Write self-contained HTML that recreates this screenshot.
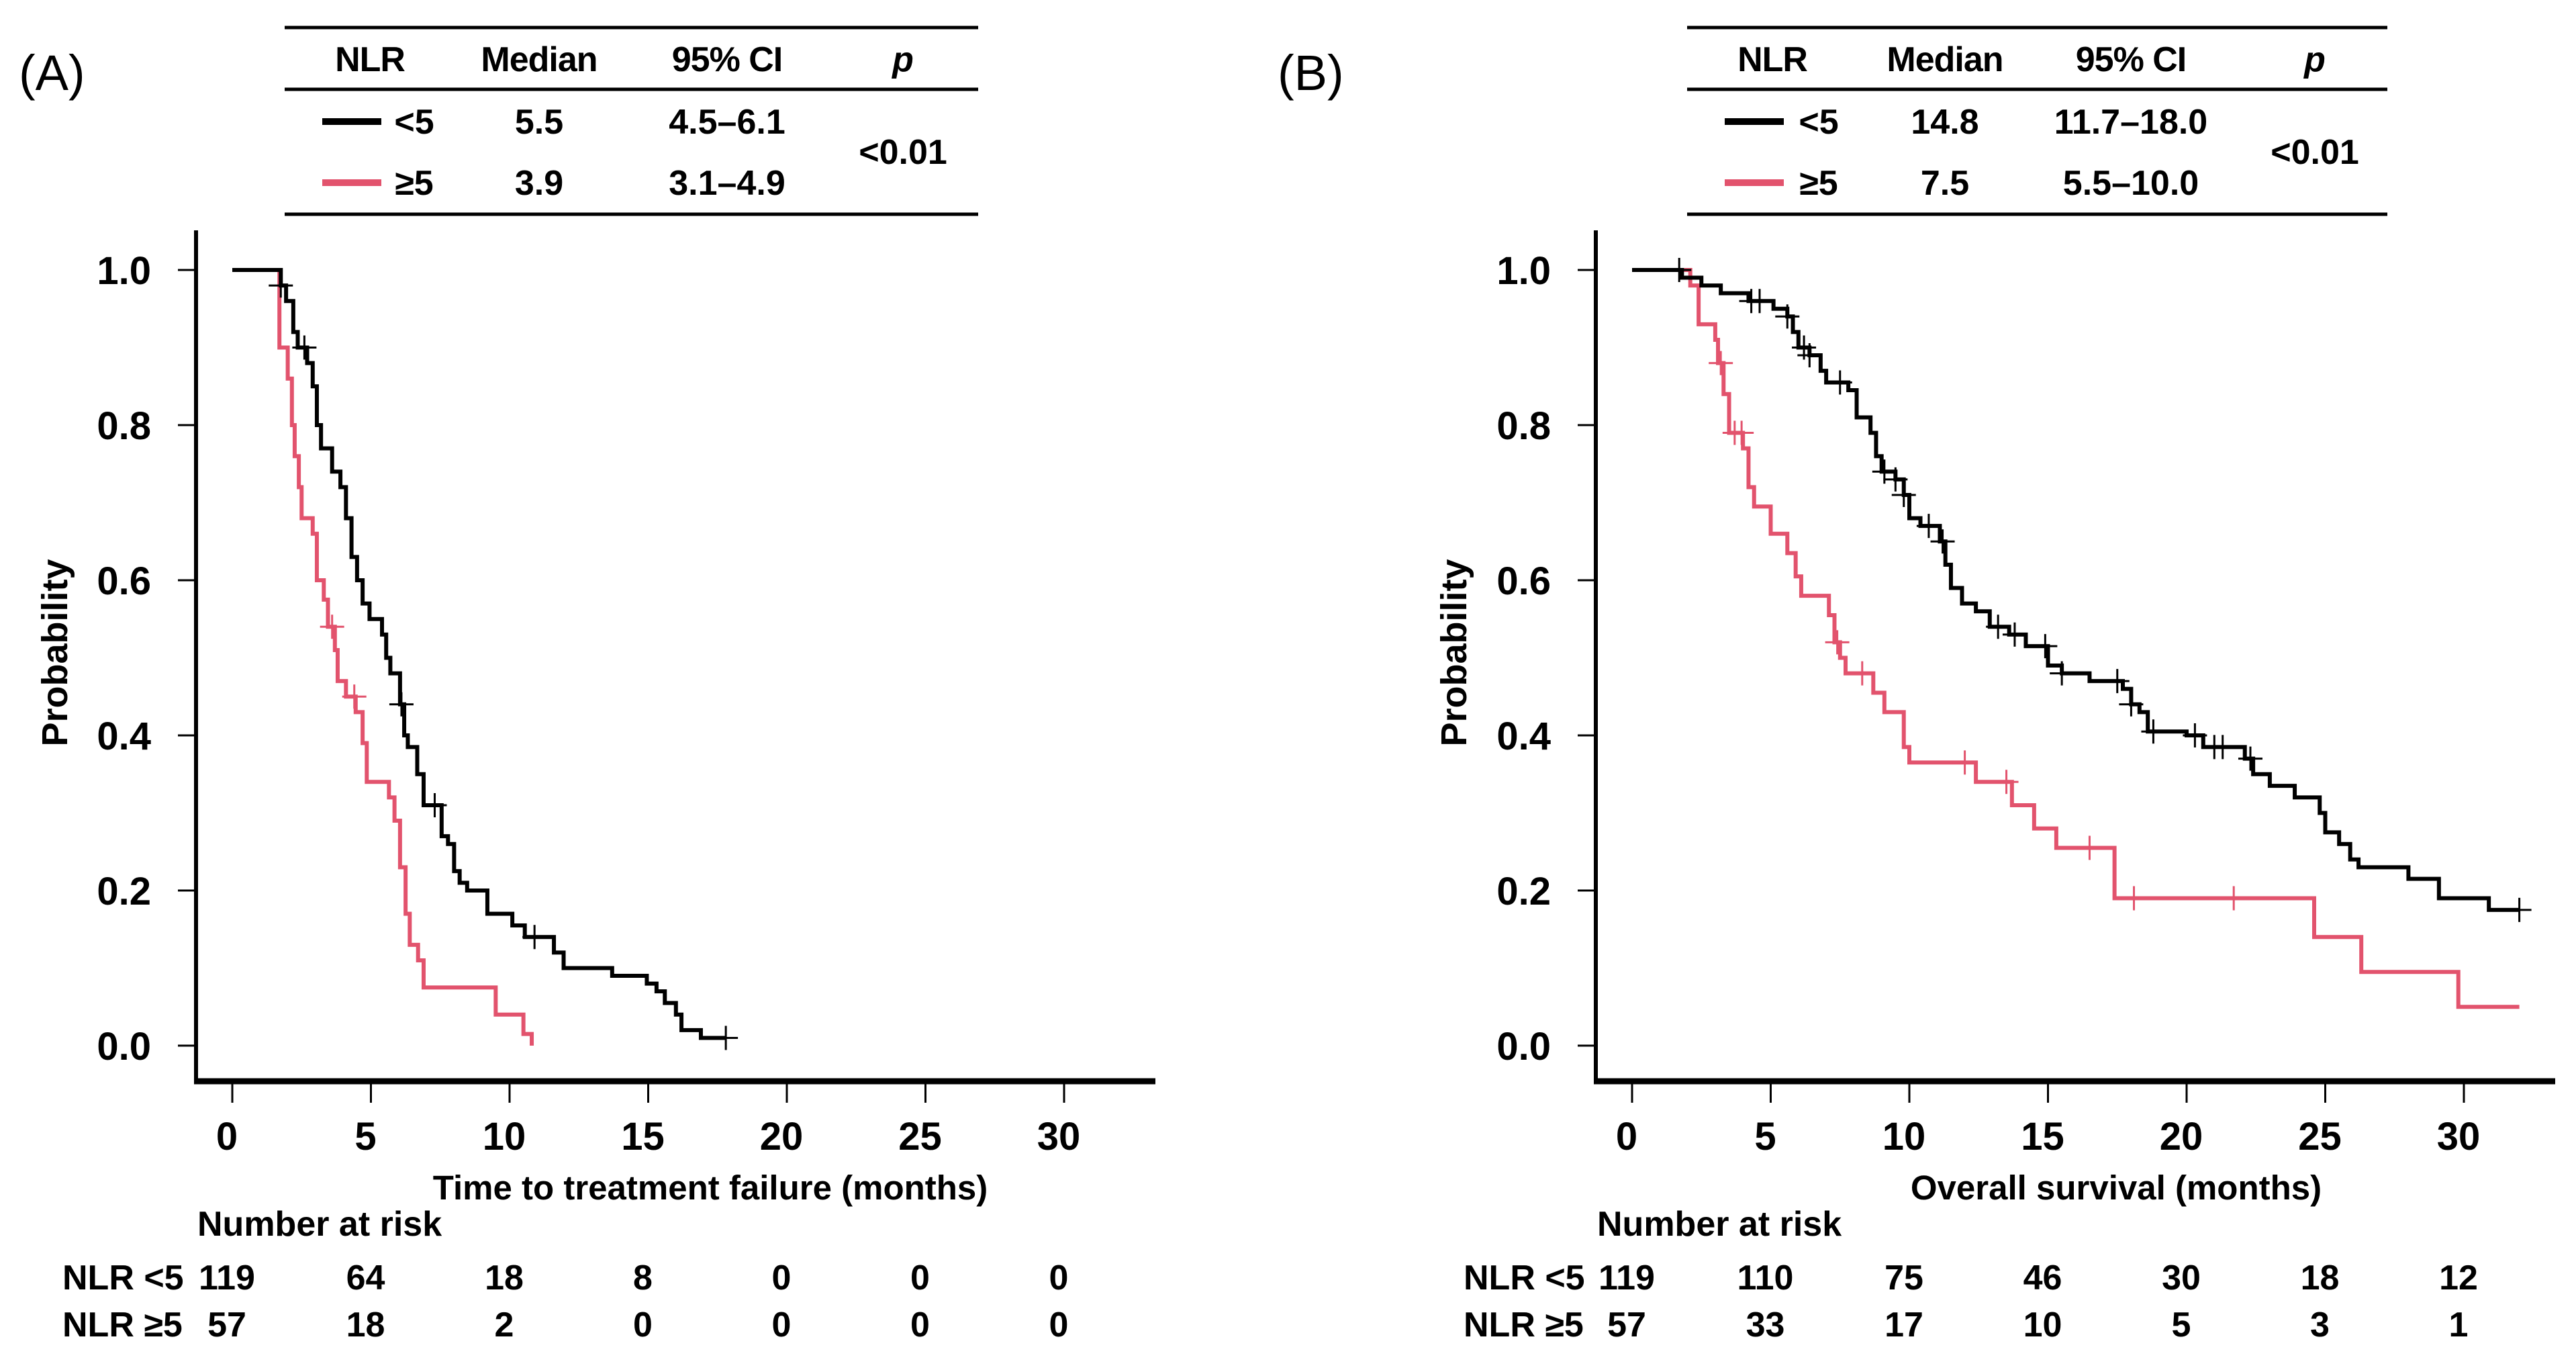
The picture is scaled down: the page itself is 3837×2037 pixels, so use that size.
<!DOCTYPE html>
<html><head><meta charset="utf-8"><style>
html,body{margin:0;padding:0;background:#fff}
svg{display:block}
text{font-family:"Liberation Sans",Arial,sans-serif}
</style></head><body>
<svg id="fig" width="3837" height="2037" viewBox="0 0 3837 2037" xmlns="http://www.w3.org/2000/svg"></svg>
<script>
const xTicks=[0,5,10,15,20,25,30];
const yTicks=[0,0.2,0.4,0.6,0.8,1.0];
const yTickLabels=["0.0","0.2","0.4","0.6","0.8","1.0"];
// Panel A: time to treatment failure
const aLowT=[0,1.75,1.94,2.2,2.36,2.7,2.9,3.05,3.2,3.6,3.9,4.1,4.3,4.5,4.7,4.95,5.4,5.55,5.7,6.05,6.2,6.33,6.67,6.9,7.55,7.78,8.0,8.2,8.47,9.2,10.1,10.55,11.6,11.95,13.7,14.95,15.3,15.6,16.0,16.2,16.9,17.8];
const aLowS=[1,0.98,0.96,0.92,0.90,0.88,0.85,0.80,0.77,0.74,0.72,0.68,0.63,0.60,0.57,0.55,0.53,0.50,0.48,0.44,0.40,0.385,0.35,0.31,0.27,0.26,0.225,0.21,0.20,0.17,0.155,0.14,0.12,0.10,0.09,0.08,0.07,0.055,0.04,0.02,0.01,0.01];
const aLowCens=[1.75,2.6,6.1,7.3,10.9,17.8];
const aHighT=[0,1.7,2.0,2.15,2.25,2.4,2.5,2.9,3.05,3.3,3.45,3.7,3.8,4.1,4.45,4.7,4.85,5.65,5.85,6.05,6.25,6.4,6.7,6.9,9.5,10.5,10.8];
const aHighS=[1,0.90,0.86,0.80,0.76,0.72,0.68,0.66,0.60,0.575,0.54,0.51,0.47,0.45,0.43,0.39,0.34,0.32,0.29,0.23,0.17,0.13,0.11,0.075,0.04,0.015,0];
const aHighCens=[3.6,4.4];
const aRiskLow=["119","64","18","8","0","0","0"];
const aRiskHigh=["57","18","2","0","0","0","0"];
// Panel B: overall survival
const bLowT=[0,1.8,2.5,3.2,4.2,5.1,5.6,5.8,6.0,6.4,6.8,7.0,7.8,8.1,8.6,8.8,9.0,9.5,9.8,10.0,10.4,11.1,11.3,11.5,11.9,12.4,12.9,13.6,14.2,15.0,15.5,16.5,17.7,18.0,18.3,18.6,20.0,20.6,22.1,22.4,23.0,23.9,24.8,25.0,25.5,25.9,26.2,28.0,29.1,30.9,32.0];
const bLowS=[1,0.99,0.98,0.97,0.96,0.95,0.94,0.92,0.90,0.89,0.87,0.855,0.845,0.81,0.79,0.76,0.74,0.73,0.71,0.68,0.67,0.65,0.62,0.59,0.57,0.56,0.54,0.53,0.515,0.49,0.48,0.47,0.46,0.44,0.43,0.405,0.40,0.385,0.37,0.35,0.335,0.32,0.30,0.275,0.26,0.24,0.23,0.215,0.19,0.175,0.175];
const bLowCens=[1.7,4.3,4.6,5.6,6.2,6.4,7.5,9.1,9.5,9.8,10.7,11.2,13.2,13.8,14.9,15.5,17.5,18.0,18.8,20.3,21.0,21.3,22.3,32.0];
const bHighT=[0,2.1,2.4,3.0,3.1,3.3,3.5,4.0,4.2,4.4,5.0,5.6,5.9,6.1,7.1,7.3,7.5,7.7,8.7,9.1,9.8,10.0,12.4,13.7,14.5,15.3,17.4,24.6,26.3,29.8,32.0];
const bHighS=[1,0.98,0.93,0.91,0.88,0.84,0.79,0.77,0.72,0.695,0.66,0.635,0.605,0.58,0.555,0.52,0.50,0.48,0.455,0.43,0.385,0.365,0.34,0.31,0.28,0.255,0.19,0.14,0.095,0.05,0.05];
const bHighCens=[3.2,3.7,3.95,7.4,8.3,12.0,13.5,16.5,18.1,21.7];
const bRiskLow=["119","110","75","46","30","18","12"];
const bRiskHigh=["57","33","17","10","5","3","1"];

const NS="http://www.w3.org/2000/svg";
const svg=document.getElementById('fig');
const RED="#e2536d";
function mk(tag,attrs,parent){const e=document.createElementNS(NS,tag);for(const k in attrs)e.setAttribute(k,attrs[k]);(parent||svg).appendChild(e);return e;}
function txt(s,x,y,size,anchor,parent,extra){const e=mk('text',Object.assign({x:x,y:y,'font-size':size,'font-weight':'bold','text-anchor':anchor||'middle'},extra||{}),parent);e.textContent=s;return e;}

function panel(o){
  const g=mk('g',{});
  
  
  const x0=o.x0, px=41.3, y0=1557, py=1155;
  const sx=t=>x0+t*px, sy=s=>y0-s*py;
  const ax=x0-54;
  const lab=txt(o.letter,o.letterX,134,74,'start',g,{'font-weight':'normal'});
  
  
  const tb=mk('g',{},g);
  
  
  [41,133,319].forEach(y=>mk('line',{x1:o.tx1,x2:o.tx2,y1:y,y2:y,stroke:'#000','stroke-width':5},tb));
  txt('NLR',o.cols[0],106,52,'middle',tb,{'letter-spacing':'-1'});
  txt('Median',o.cols[1],106,52,'middle',tb,{'letter-spacing':'-1'});
  txt('95%  CI',o.cols[2],106,52,'middle',tb,{'letter-spacing':'-1'});
  txt('p',o.cols[3],106,52,'middle',tb,{'font-style':'italic'});
  mk('line',{x1:o.legX1,x2:o.legX2,y1:181,y2:181,stroke:'#000','stroke-width':10},tb);
  mk('line',{x1:o.legX1,x2:o.legX2,y1:272,y2:272,stroke:RED,'stroke-width':10},tb);
  txt('<5',o.legLab,199,52,'middle',tb);
  txt('\u22655',o.legLab,290,52,'middle',tb);
  txt(o.med[0],o.cols[1],199,52,'middle',tb);
  txt(o.med[1],o.cols[1],290,52,'middle',tb);
  txt(o.ci[0],o.cols[2],199,52,'middle',tb);
  txt(o.ci[1],o.cols[2],290,52,'middle',tb);
  txt('<0.01',o.cols[3],244,52,'middle',tb);
  const axes=mk('g',{},g);
  
  
  mk('line',{x1:ax,x2:ax,y1:343,y2:1614,stroke:'#000','stroke-width':6},axes);
  mk('line',{x1:ax-3,x2:o.xEnd,y1:1610,y2:1610,stroke:'#000','stroke-width':9},axes);
  xTicks.forEach(t=>{
    mk('line',{x1:sx(t),x2:sx(t),y1:1614,y2:1642,stroke:'#000','stroke-width':3},axes);
    const tl=txt(String(t),sx(t)-8,1712,58,'middle',axes);
    
    
  });
  yTicks.forEach((v,i)=>{
    mk('line',{x1:ax-27,x2:ax,y1:sy(v),y2:sy(v),stroke:'#000','stroke-width':3},axes);
    const tl=txt(yTickLabels[i],ax-67,sy(v)+21,58,'end',axes);
    
    
  });
  const yt=txt('Probability',0,0,54,'middle',g,{transform:`translate(${o.ylabX},972) rotate(-90)`});
  
  
  const xt=txt(o.xlabel,o.xlabX,1786,51,'middle',g);
  
  
  function curve(T,S,cens,color,nm){
    let d=`M${sx(T[0])},${sy(S[0])}`;
    for(let i=1;i<T.length;i++){d+=` H${sx(T[i])} V${sy(S[i])}`;}
    const p=mk('path',{d:d,fill:'none',stroke:color,'stroke-width':6},g);
    
    
    cens.forEach(c=>{
      let s=S[0];for(let i=0;i<T.length;i++){if(T[i]<=c)s=S[i];}
      const cx=sx(c),cy=sy(s);
      const m=mk('path',{d:`M${cx-18},${cy} H${cx+18} M${cx},${cy-18} V${cy+18}`,stroke:color,'stroke-width':3,fill:'none'},g);
      
      
    });
  }
  curve(o.hT,o.hS,o.hC,RED,'curve-nlr-high');
  curve(o.lT,o.lS,o.lC,'#000','curve-nlr-low');
  const rk=mk('g',{},g);
  
  
  txt('Number at risk',ax+2,1840,52,'start',rk);
  txt('NLR <5',o.nlrX,1920,52,'start',rk);
  txt('NLR \u22655',o.nlrX,1990,52,'start',rk);
  xTicks.forEach((t,i)=>{
    txt(o.rL[i],sx(t)-8,1920,52,'middle',rk);
    txt(o.rH[i],sx(t)-8,1990,52,'middle',rk);
  });
}
panel({name:'panel-a-ttf',letter:'(A)',letterX:28,x0:346,xEnd:1721,tx1:424,tx2:1457,cols:[551,803,1083,1345],legX1:480,legX2:568,legLab:617,
  med:['5.5','3.9'],ci:['4.5\u20136.1','3.1\u20134.9'],ylabX:100,xlabel:'Time to treatment failure (months)',xlabX:1058,nlrX:93,
  lT:aLowT,lS:aLowS,lC:aLowCens,hT:aHighT,hS:aHighS,hC:aHighCens,rL:aRiskLow,rH:aRiskHigh});
panel({name:'panel-b-os',letter:'(B)',letterX:1903,x0:2431,xEnd:3806,tx1:2513,tx2:3556,cols:[2640,2897,3174,3448],legX1:2569,legX2:2657,legLab:2709,
  med:['14.8','7.5'],ci:['11.7\u201318.0','5.5\u201310.0'],ylabX:2184,xlabel:'Overall survival (months)',xlabX:3152,nlrX:2180,
  lT:bLowT,lS:bLowS,lC:bLowCens,hT:bHighT,hS:bHighS,hC:bHighCens,rL:bRiskLow,rH:bRiskHigh});
</script>
</body></html>
